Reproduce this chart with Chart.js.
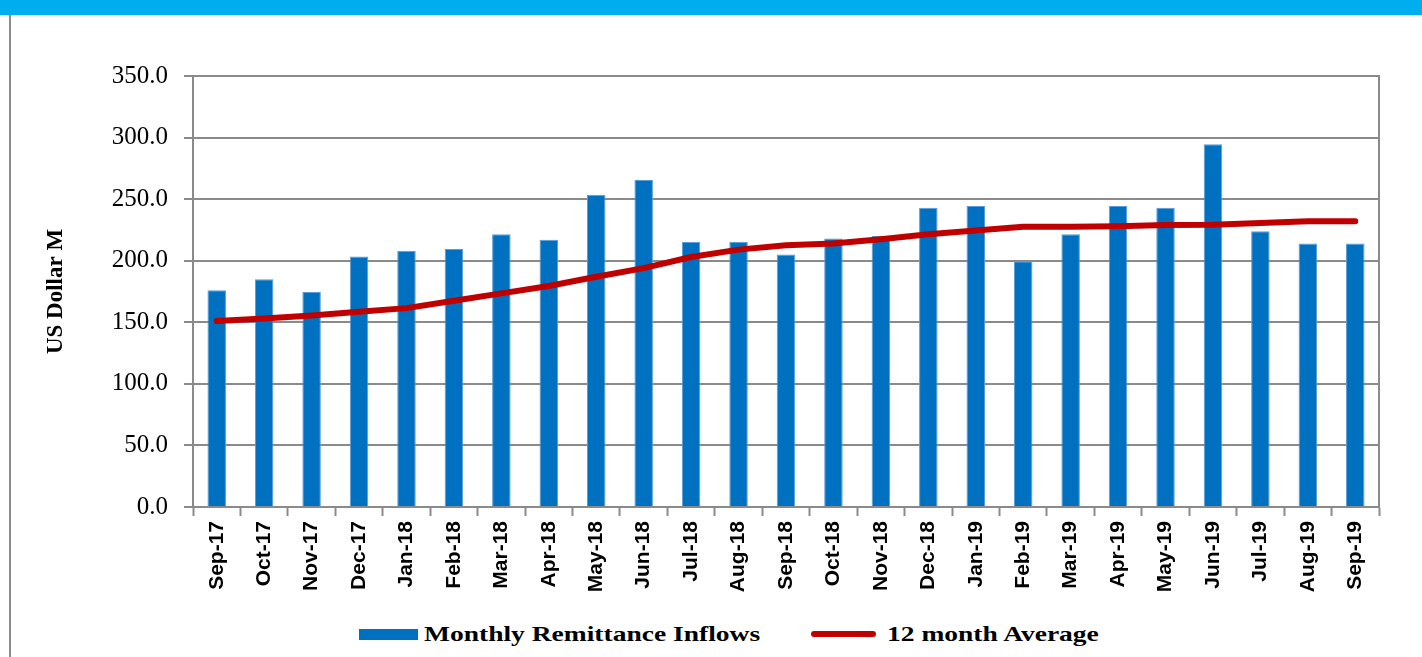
<!DOCTYPE html>
<html lang="en">
<head>
    <style>
        body {
            margin: 0;
            background-color: #fff;
            width: 1422px;
            height: 657px;
            overflow: hidden;
            position: relative;
        }

        #banner {
            position: absolute;
            left: 0;
            top: 0;
            width: 1422px;
            height: 15px;
            background-color: #00aeef;
        }

        #frameLeft {
            position: absolute;
            left: 9px;
            top: 15px;
            width: 2px;
            height: 642px;
            background-color: #8c8c8c;
        }

        #chartBox {
            position: absolute;
            left: 0;
            top: 0;
            width: 1422px;
            height: 600px;
        }

        .legendText {
            position: absolute;
            top: 622px;
            font-family: 'Liberation Serif', 'Times New Roman', serif;
            font-weight: bold;
            font-size: 22px;
            line-height: 24px;
            color: #000;
            white-space: nowrap;
            transform: scaleX(1.25);
            transform-origin: left center;
        }

        #barKey {
            position: absolute;
            left: 359px;
            top: 629px;
            width: 59px;
            height: 11px;
            background-color: #0070c0;
        }

        #lineKey {
            position: absolute;
            left: 811px;
            top: 631px;
            width: 65px;
            height: 6px;
            border-radius: 3px;
            background-color: #c00000;
        }
    </style>
</head>
<body>

<div id="banner"></div>
<div id="frameLeft"></div>

<div id="chartBox">
    <canvas id="remitChart" width="1422" height="600"></canvas>
</div>

<!-- legend -->
<div id="barKey"></div>
<div class="legendText" style="left: 424px;">Monthly Remittance Inflows</div>
<div id="lineKey"></div>
<div class="legendText" style="left: 887px;">12 month Average</div>

<script src="https://cdn.jsdelivr.net/npm/chart.js"></script>
<script>
    // chart data
    const months = ['Sep-17', 'Oct-17', 'Nov-17', 'Dec-17', 'Jan-18', 'Feb-18', 'Mar-18', 'Apr-18',
        'May-18', 'Jun-18', 'Jul-18', 'Aug-18', 'Sep-18', 'Oct-18', 'Nov-18', 'Dec-18',
        'Jan-19', 'Feb-19', 'Mar-19', 'Apr-19', 'May-19', 'Jun-19', 'Jul-19', 'Aug-19', 'Sep-19'];

    const monthlyInflows = [176.0, 185.0, 174.5, 203.5, 208.0, 209.5, 221.5, 217.0,
        253.5, 265.5, 215.5, 215.5, 205.0, 218.0, 220.0, 243.0,
        244.5, 199.5, 221.5, 244.5, 243.0, 294.5, 224.0, 214.0, 214.0];

    const avg12Month = [151.0, 153.0, 155.5, 158.5, 161.5, 167.5, 173.5, 179.5,
        187.0, 194.0, 203.0, 209.0, 212.5, 214.0, 217.5, 221.5,
        224.5, 227.5, 227.5, 228.0, 229.0, 229.3, 230.6, 232.0, 232.0];

    const yTicks = [0, 50, 100, 150, 200, 250, 300, 350];

    const axisGray = '#8a8a8a';
    const serif = "'Liberation Serif', 'Times New Roman', serif";
    const narrow = "'Liberation Sans Narrow', 'Arial Narrow', 'Liberation Sans', sans-serif";

    const ctx = document.getElementById('remitChart').getContext('2d');

    new Chart(ctx, {
        type: 'bar',
        data: {
            labels: months,
            datasets: [
                {
                    type: 'line',
                    label: '12 month Average',
                    data: avg12Month,
                    borderColor: '#c00000',
                    backgroundColor: '#c00000',
                    borderWidth: 6,
                    pointRadius: 0,
                    tension: 0,
                    borderCapStyle: 'round',
                    borderJoinStyle: 'round',
                    order: 1
                },
                {
                    label: 'Monthly Remittance Inflows',
                    data: monthlyInflows,
                    backgroundColor: '#0070c0',
                    borderColor: '#5b9bd5',
                    borderWidth: 1,
                    barPercentage: 0.39,
                    categoryPercentage: 1.0,
                    order: 2
                }
            ]
        },
        options: {
            responsive: false,
            animation: false,
            layout: {
                padding: { left: 40, right: 43, top: 76, bottom: 8 }
            },
            plugins: {
                legend: { display: false },
                tooltip: { enabled: false }
            },
            scales: {
                x: {
                    offset: true,
                    grid: {
                        offset: true,
                        drawOnChartArea: false,
                        drawTicks: true,
                        tickLength: 9,
                        tickColor: axisGray,
                        tickWidth: 2
                    },
                    border: { display: true, color: axisGray, width: 2 },
                    ticks: {
                        autoSkip: false,
                        minRotation: 90,
                        maxRotation: 90,
                        padding: 5,
                        color: '#000',
                        font: { family: narrow, size: 21, weight: 'bold' }
                    },
                    afterFit: function (scale) {
                        scale.height = 85;
                    }
                },
                y: {
                    min: 0,
                    max: 350,
                    afterBuildTicks: function (scale) {
                        scale.ticks = yTicks.map(v => ({ value: v }));
                    },
                    grid: {
                        color: axisGray,
                        lineWidth: 2,
                        tickLength: 9,
                        tickColor: axisGray
                    },
                    border: { display: true, color: axisGray, width: 2 },
                    ticks: {
                        padding: 16,
                        color: '#000',
                        font: { family: serif, size: 25 },
                        callback: value => Number(value).toFixed(1)
                    },
                    title: {
                        display: true,
                        text: 'US Dollar M',
                        color: '#000',
                        font: { family: serif, size: 23, weight: 'bold' },
                        padding: { top: 2, bottom: 4 }
                    },
                    afterFit: function (scale) {
                        scale.width = 153;
                    }
                },
                // right frame of the plot area
                yRight: {
                    position: 'right',
                    min: 0,
                    max: 350,
                    grid: { drawOnChartArea: false, drawTicks: false },
                    border: { display: true, color: axisGray, width: 2 },
                    ticks: { display: false },
                    afterFit: function (scale) {
                        scale.width = 0;
                    }
                }
            }
        }
    });
</script>

</body>
</html>
